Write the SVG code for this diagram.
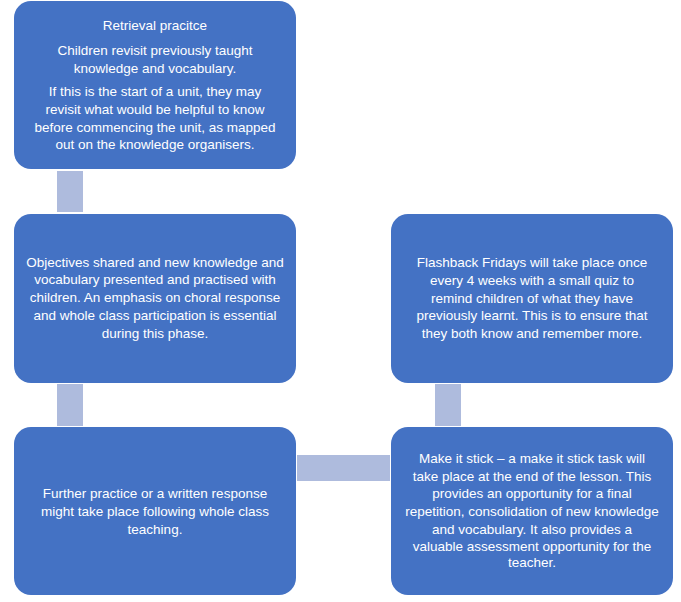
<svg xmlns="http://www.w3.org/2000/svg" width="681" height="602" viewBox="0 0 681 602">
<style>
.box{fill:#4472C4;}
.conn{fill:#AEBBDD;}
.t{font-family:"Liberation Sans","DejaVu Sans",sans-serif;font-size:13.5px;fill:#FFFFFF;text-anchor:middle;}
</style>
<rect width="681" height="602" fill="#FFFFFF"/>
<g id="connectors">
<rect class="conn" x="57" y="171" width="26" height="41"/>
<rect class="conn" x="57" y="384" width="26" height="42"/>
<rect class="conn" x="297" y="455" width="93" height="26"/>
<rect class="conn" x="435" y="384" width="26" height="42"/>
</g>
<g id="node-retrieval">
<rect class="box" x="14" y="1" width="282" height="168" rx="17" ry="17"/>
<text class="t" x="155" y="30">Retrieval pracitce</text>
<text class="t" x="155" y="55">Children revisit previously taught</text>
<text class="t" x="155" y="73">knowledge and vocabulary.</text>
<text class="t" x="155" y="96">If this is the start of a unit, they may</text>
<text class="t" x="155" y="114">revisit what would be helpful to know</text>
<text class="t" x="155" y="132">before commencing the unit, as mapped</text>
<text class="t" x="155" y="149">out on the knowledge organisers.</text>
</g>
<g id="node-objectives">
<rect class="box" x="14" y="214" width="282" height="169" rx="17" ry="17"/>
<text class="t" x="155" y="267">Objectives shared and new knowledge and</text>
<text class="t" x="155" y="284">vocabulary presented and practised with</text>
<text class="t" x="155" y="302">children. An emphasis on choral response</text>
<text class="t" x="155" y="320">and whole class participation is essential</text>
<text class="t" x="155" y="338">during this phase.</text>
</g>
<g id="node-further">
<rect class="box" x="14" y="427" width="282" height="168" rx="17" ry="17"/>
<text class="t" x="155" y="498">Further practice or a written response</text>
<text class="t" x="155" y="516">might take place following whole class</text>
<text class="t" x="155" y="534">teaching.</text>
</g>
<g id="node-makeitstick">
<rect class="box" x="391" y="427" width="282" height="168" rx="17" ry="17"/>
<text class="t" x="532" y="463">Make it stick – a make it stick task will</text>
<text class="t" x="532" y="481">take place at the end of the lesson. This</text>
<text class="t" x="532" y="498">provides an opportunity for a final</text>
<text class="t" x="532" y="516">repetition, consolidation of new knowledge</text>
<text class="t" x="532" y="534">and vocabulary. It also provides a</text>
<text class="t" x="532" y="551">valuable assessment opportunity for the</text>
<text class="t" x="532" y="567">teacher.</text>
</g>
<g id="node-flashback">
<rect class="box" x="391" y="214" width="282" height="169" rx="17" ry="17"/>
<text class="t" x="532" y="267">Flashback Fridays will take place once</text>
<text class="t" x="532" y="285">every 4 weeks with a small quiz to</text>
<text class="t" x="532" y="303">remind children of what they have</text>
<text class="t" x="532" y="320">previously learnt. This is to ensure that</text>
<text class="t" x="532" y="338">they both know and remember more.</text>
</g>
</svg>
